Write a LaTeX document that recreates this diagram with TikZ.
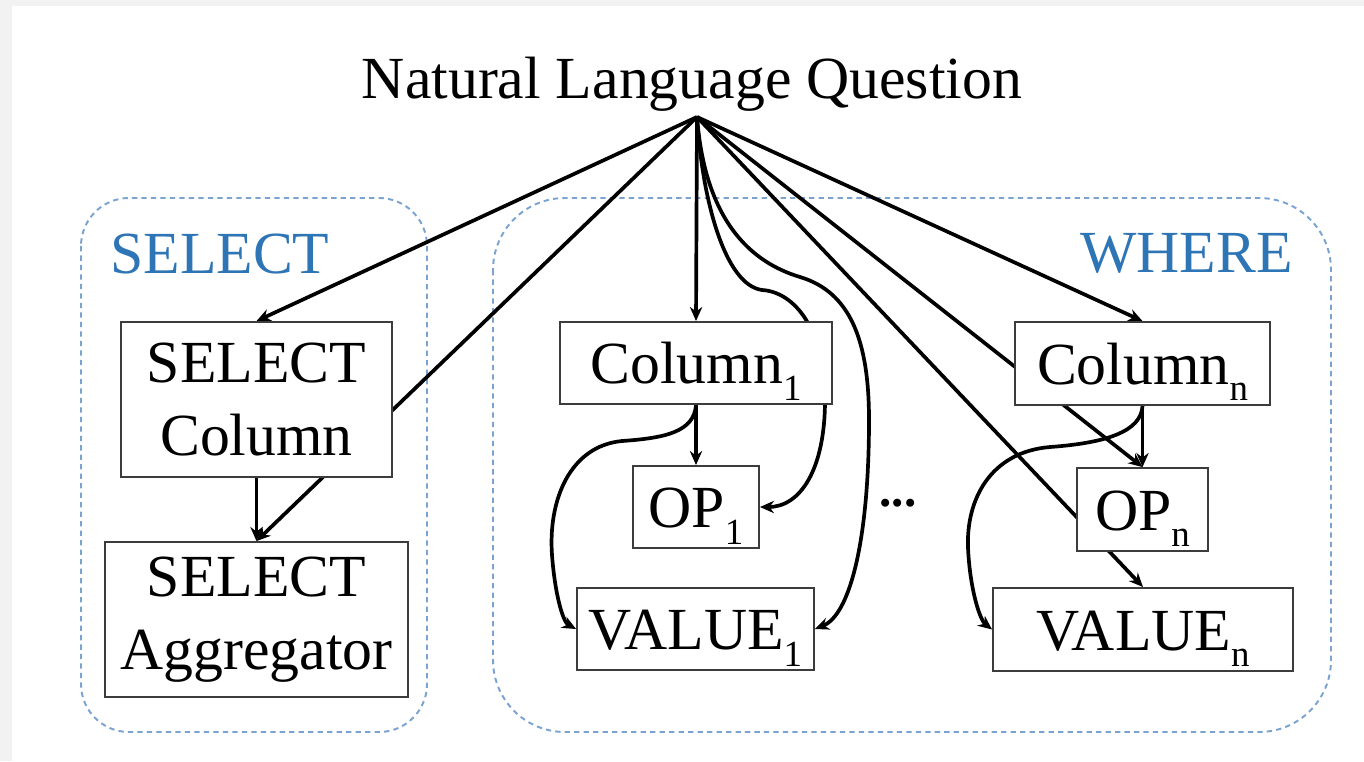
\documentclass[tikz,border=0pt]{standalone}
\usepackage{fontspec}
\setmainfont{Liberation Serif}
\usetikzlibrary{arrows.meta}
\definecolor{pagegray}{HTML}{F2F2F2}
\definecolor{regionblue}{HTML}{7AA3D2}
\definecolor{labelblue}{HTML}{2E75B6}
\definecolor{boxline}{HTML}{3C3C3C}
\pgfdeclarelayer{bg}
\pgfsetlayers{bg,main}
\newcommand{\idx}[1]{\raisebox{-9.5pt}{\fontsize{21}{21}\selectfont #1}}

\begin{document}
\begin{tikzpicture}[
  x=0.02cm, y=-0.02cm,
  every node/.style={font=\fontsize{34}{41.5}\selectfont, inner sep=0pt},
  region/.style={regionblue, line width=1.1pt, dash pattern=on 3pt off 2.4pt},
  blk/.style={draw=boxline, line width=1.1pt, fill=white, align=center},
  oneline/.style={blk, text height=0.82cm, text depth=0pt},
  link/.style={line width=2.1pt, -{Stealth[length=8pt, width=7pt]}},
  tag/.style={labelblue}
]

%% ==== question ======================================================
\node[anchor=base] (nlq) at (692,98) {Natural Language Question};
\coordinate (fan) at (697,117);

%% ==== SELECT part ===================================================
\node[tag, anchor=base west] (sellab) at (110,273) {SELECT};
\node[blk, minimum width=5.42cm, minimum height=3.1cm] (selcol)
  at (256.5,399.5) {SELECT\\Column};
\node[blk, minimum width=6.06cm, minimum height=3.1cm] (selagg)
  at (256.5,619.5) {SELECT\\Aggregator};

%% ==== WHERE part ====================================================
\node[tag, anchor=base east] (wherelab) at (1293,272) {WHERE};

\node[oneline, minimum width=5.44cm, minimum height=1.64cm] (col1)
  at (696,363) {Column\idx{1}};
\node[oneline, minimum width=2.52cm, minimum height=1.64cm] (op1)
  at (696,507) {OP\idx{1}};
\node[oneline, minimum width=4.74cm, minimum height=1.64cm] (val1)
  at (695.5,629) {VALUE\idx{1}};

\node[font=\fontsize{28}{32}\selectfont\bfseries, anchor=base] (dots)
  at (898,506) {...};

\node[oneline, minimum width=5.1cm, minimum height=1.66cm] (coln)
  at (1142.5,363.5) {Column\idx{n}};
\node[oneline, minimum width=2.62cm, minimum height=1.66cm] (opn)
  at (1142.5,509.5) {OP\idx{n}};
\node[oneline, minimum width=6cm, minimum height=1.66cm] (valn)
  at (1143,629.5) {VALUE\idx{n}};

%% ==== regions and links (behind the boxes) ==========================
\begin{pgfonlayer}{bg}
  \fill[pagegray] (0,0) rectangle (1364,761);
  \fill[white] (12,6) rectangle (1364,761);

  \draw[region, rounded corners=0.96cm] (81,198) rectangle (427,732);
  \draw[region, rounded corners=1.44cm] (493,198) rectangle (1331,732);

  \draw[link] (fan) -- (selcol.north);
  \draw[link] (fan) -- (selagg.north);
  \draw[link] (selcol.south) -- (selagg.north);

  \draw[link] (fan) -- (col1.north);
  \draw[link] (fan) .. controls (702,200) and (725,285) .. (762,290)
    .. controls (795,292) and (825,330) .. (825,400)
    .. controls (825,470) and (800,507) .. (op1.east);
  \draw[link] (fan) .. controls (705,220) and (750,262) .. (800,277)
    .. controls (850,292) and (869,340) .. (869,420)
    .. controls (869,540) and (850,615) .. (val1.east);
  \draw[link] (col1.south) -- (op1.north);
  \draw[link] (col1.south) .. controls (694,432) and (665,438) .. (622,441)
    .. controls (570,446) and (548,500) .. (552,555)
    .. controls (555,595) and (563,622) .. (val1.west);

  \draw[link] (fan) -- (coln.north);
  \draw[link] (fan) -- (opn.north);
  \draw[link] (fan) -- (valn.north);
  \draw[link] (coln.south) -- (opn.north);
  \draw[link] (coln.south) .. controls (1141,432) and (1105,443) .. (1050,447)
    .. controls (990,452) and (966,500) .. (968,548)
    .. controls (970,590) and (980,620) .. (valn.west);
\end{pgfonlayer}

\end{tikzpicture}
\end{document}
